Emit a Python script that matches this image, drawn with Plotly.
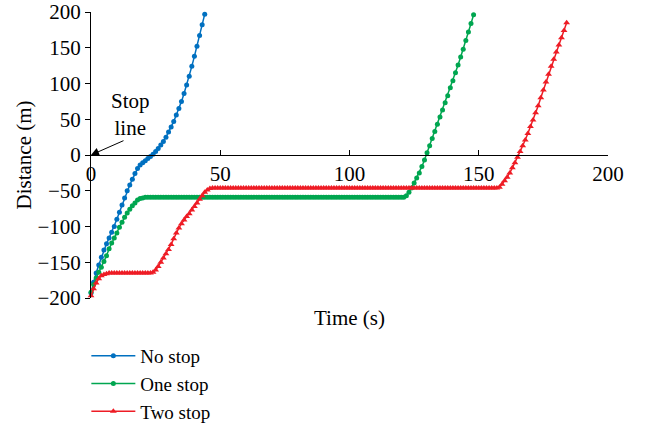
import plotly.graph_objects as go

# ---------------- data ----------------
t_no_stop = list(range(0, 45))
d_no_stop = [
    -193, -178, -165, -154, -143, -133, -124, -116, -108, -100,
    -90, -80, -70, -60, -50, -42, -34, -26, -19, -14,
    -11, -8, -5, -2, 1, 5, 9, 14, 19, 25,
    32, 39, 47, 56, 65, 75, 86, 98, 110, 124,
    138, 152, 167, 182, 197,
]

t_one_stop = list(range(0, 149))
d_one_stop = [
    -192, -181, -172, -164, -157, -149, -141, -131, -123, -116,
    -109, -101, -94, -87, -81, -76, -71, -67, -63, -61,
    -60,
    -59, -59, -59, -59, -59, -59, -59, -59, -59, -59,
    -59, -59, -59, -59, -59, -59, -59, -59, -59, -59,
    -59, -59, -59, -59, -59, -59, -59, -59, -59, -59,
    -59, -59, -59, -59, -59, -59, -59, -59, -59, -59,
    -59, -59, -59, -59, -59, -59, -59, -59, -59, -59,
    -59, -59, -59, -59, -59, -59, -59, -59, -59, -59,
    -59, -59, -59, -59, -59, -59, -59, -59, -59, -59,
    -59, -59, -59, -59, -59, -59, -59, -59, -59, -59,
    -59, -59, -59, -59, -59, -59, -59, -59, -59, -59,
    -59, -59, -59, -59, -59, -59, -59, -59, -59, -59,
    -59,
    -57, -52, -46, -39, -32, -25, -16, -7, 3, 13,
    23, 33, 43, 53, 63, 73, 83, 94, 104, 115,
    126, 137, 148, 160, 172, 184, 196,
]

t_two_stop = list(range(0, 185))
d_two_stop = [
    -197, -187, -179, -173, -169, -167, -166,
    -165, -165, -165, -165, -165, -165, -165, -165, -165, -165,
    -165, -165, -165, -165, -165, -165, -165,
    -164, -161, -156, -150, -144, -138, -132, -125, -117, -109,
    -102, -96, -91, -86, -82, -77, -72, -67, -62, -57,
    -52, -49, -47,
    -46, -46, -46, -46, -46, -46, -46, -46, -46, -46,
    -46, -46, -46, -46, -46, -46, -46, -46, -46, -46,
    -46, -46, -46, -46, -46, -46, -46, -46, -46, -46,
    -46, -46, -46, -46, -46, -46, -46, -46, -46, -46,
    -46, -46, -46, -46, -46, -46, -46, -46, -46, -46,
    -46, -46, -46, -46, -46, -46, -46, -46, -46, -46,
    -46, -46, -46, -46, -46, -46, -46, -46, -46, -46,
    -46, -46, -46, -46, -46, -46, -46, -46, -46, -46,
    -46, -46, -46, -46, -46, -46, -46, -46, -46, -46,
    -46, -46, -46, -46, -46, -46, -46, -46, -46, -46,
    -46, -46, -46, -46, -46, -46, -46, -46, -46, -46,
    -46,
    -45, -41, -36, -31, -25, -18, -11, -3, 5, 13,
    21, 30, 40, 49, 59, 69, 80, 91, 102, 113,
    124, 134, 144, 154, 164, 174, 185,
]

x_ticks = [0, 50, 100, 150, 200]
y_ticks = [-200, -150, -100, -50, 0, 50, 100, 150, 200]

series_names = ["No stop", "One stop", "Two stop"]
colors = ["#0070C0", "#00A650", "#EE1C25"]

FONT = "Liberation Serif"
FS = 21

# ---------------- figure ----------------
fig = go.Figure()

fig.add_trace(go.Scatter(
    x=t_no_stop, y=d_no_stop, name=series_names[0], mode="lines+markers",
    line=dict(color=colors[0], width=1.5),
    marker=dict(symbol="circle", size=5, color=colors[0]),
    cliponaxis=False,
))
fig.add_trace(go.Scatter(
    x=t_one_stop, y=d_one_stop, name=series_names[1], mode="lines+markers",
    line=dict(color=colors[1], width=1.5),
    marker=dict(symbol="circle", size=5, color=colors[1]),
    cliponaxis=False,
))
fig.add_trace(go.Scatter(
    x=t_two_stop, y=d_two_stop, name=series_names[2], mode="lines+markers",
    line=dict(color=colors[2], width=1.5),
    marker=dict(symbol="triangle-up", size=6, color=colors[2]),
    cliponaxis=False,
))

# Stop line annotation
fig.add_annotation(
    x=0, y=0, xref="x", yref="y", text="", showarrow=True,
    ax=34, ay=-15, arrowhead=2, arrowsize=1.6, arrowwidth=1, arrowcolor="black",
)
fig.add_annotation(
    x=0.077, y=0.643, xref="paper", yref="paper", text="Stop<br>line",
    showarrow=False, font=dict(family=FONT, size=FS, color="black"),
    xanchor="center", yanchor="middle", align="center",
)
# x-axis title (axis sits at y = 0)
fig.add_annotation(
    x=0.5, y=-0.07, xref="paper", yref="paper", text="Time (s)",
    showarrow=False, font=dict(family=FONT, size=FS, color="black"),
    xanchor="center", yanchor="middle",
)

fig.update_layout(
    width=646, height=428,
    margin=dict(l=91, r=38, t=12, b=130, autoexpand=False),
    paper_bgcolor="white", plot_bgcolor="white",
    font=dict(family=FONT, size=FS, color="black"),
    showlegend=True,
    legend=dict(
        x=-0.009, y=-0.136, xanchor="left", yanchor="top",
        font=dict(family=FONT, size=19), bgcolor="rgba(0,0,0,0)",
        tracegroupgap=0, itemwidth=44,
    ),
    xaxis=dict(
        range=[0, 200], tickvals=x_ticks, anchor="free", position=0.5,
        showline=True, linecolor="black", linewidth=1,
        ticks="inside", ticklen=5, tickcolor="black",
        showgrid=False, zeroline=False, automargin=False,
        tickfont=dict(family=FONT, size=FS), ticklabeloverflow="allow",
    ),
    yaxis=dict(
        range=[-200, 200], tickvals=y_ticks,
        showline=True, linecolor="black", linewidth=1,
        ticks="outside", ticklen=5, tickcolor="black",
        showgrid=False, zeroline=False, automargin=False,
        tickfont=dict(family=FONT, size=FS), ticklabeloverflow="allow",
        title=dict(text="Distance (m)", font=dict(family=FONT, size=FS), standoff=0),
    ),
)

fig.write_html(
    "out.html",
    config={"displayModeBar": False},
    post_script="document.body.style.margin='0';",
)
